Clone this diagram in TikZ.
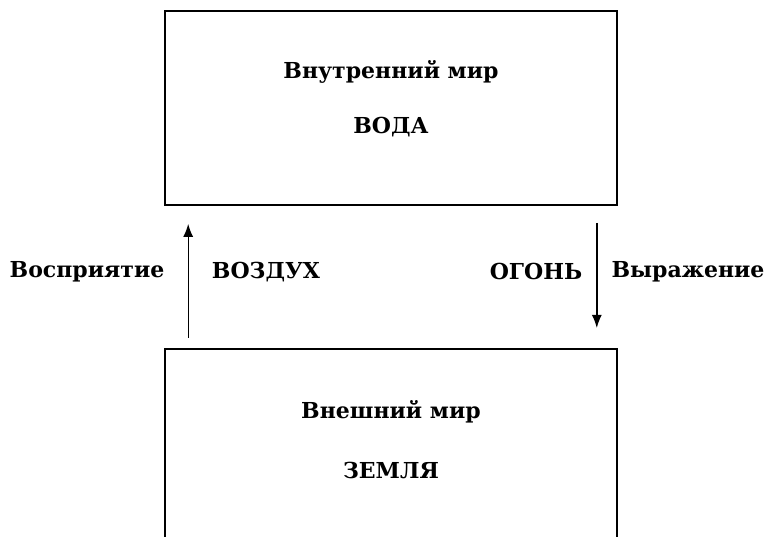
\documentclass[tikz,border=0pt]{standalone}
\usepackage{fontspec}
\setmainfont{DejaVu Serif}
\usepackage{tikz}
\usetikzlibrary{arrows.meta}

\tikzset{
  world/.style={draw, line width=1.6pt, minimum width=452pt, inner sep=0pt},
  caption/.style={font=\fontsize{22}{26}\selectfont\bfseries, inner sep=0pt},
  flow/.style={line width=1.4pt, -{Latex[length=13pt,width=10pt]}}
}

\begin{document}
\begin{tikzpicture}[x=1pt,y=1pt]
      \useasboundingbox (0,0) rectangle (769,537);
      \clip (0,0) rectangle (769,537);
      \node[world, minimum height=194pt] (inner) at (391,429) {};
      \node[world, minimum height=194pt, anchor=north] (outer) at (391,189) {};
      \node[caption] (innername) at (391,465) {Внутренний мир};
      \node[caption] (water) at (391,410) {ВОДА};
      \node[caption] (outername) at (391,125) {Внешний мир};
      \node[caption] (earth) at (391,67) {ЗЕМЛЯ};
      \draw[flow] ([xshift=24pt,yshift=10pt]outer.north west) -- ([xshift=24pt,yshift=-18pt]inner.south west);
      \draw[flow] ([xshift=-21pt,yshift=-17pt]inner.south east) -- ([xshift=-21pt,yshift=20pt]outer.north east);
      \node[caption] (perception) at (87,265) {Восприятие};
      \node[caption] (air) at (266,265) {ВОЗДУХ};
      \node[caption] (fire) at (536,265) {ОГОНЬ};
      \node[caption] (expression) at (688,265) {Выражение};
      % \draw[very thin,color=gray] (0,0) grid[step=50] (769,537);
\end{tikzpicture}
\end{document}
